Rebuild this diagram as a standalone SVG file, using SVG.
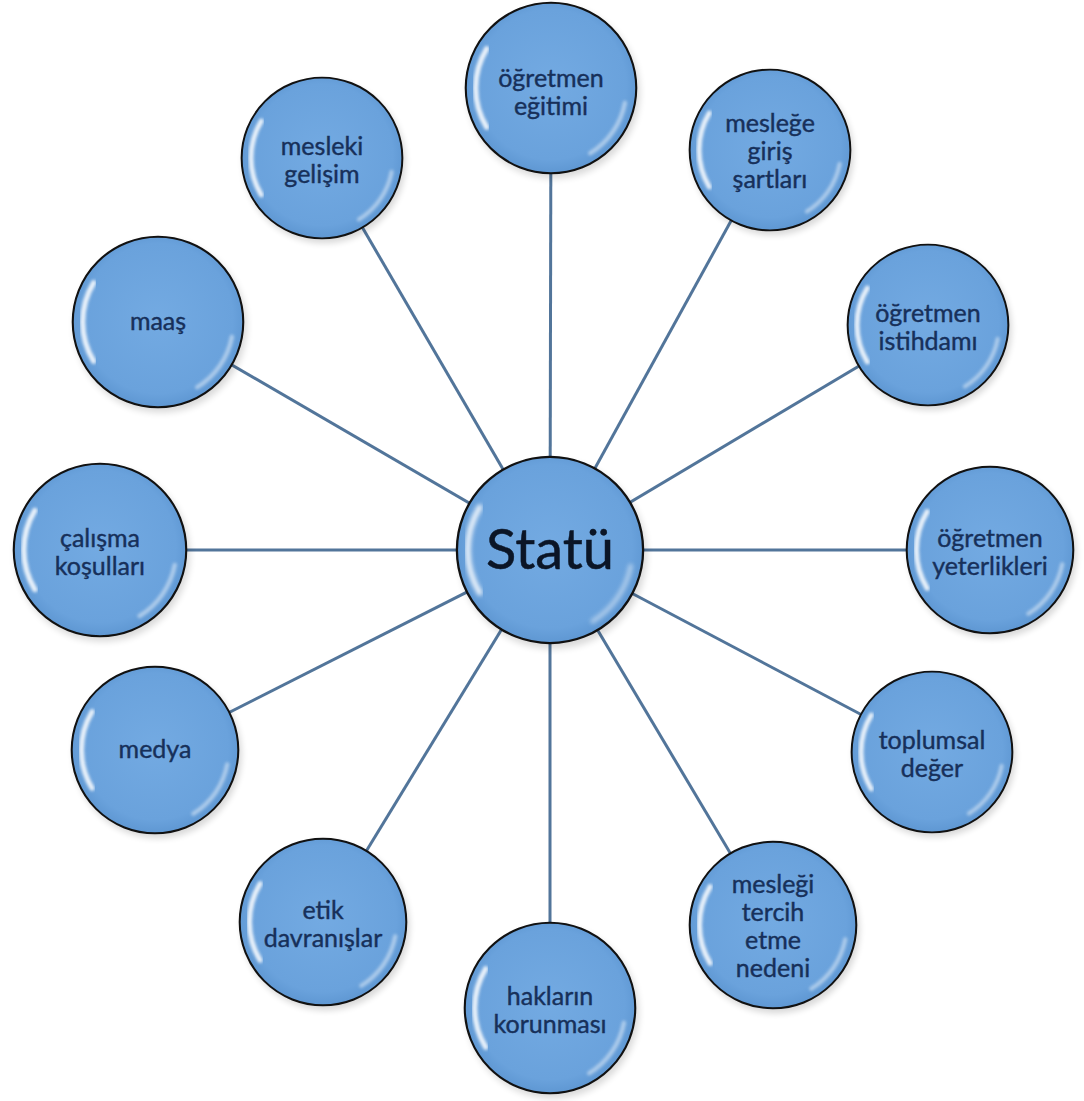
<svg xmlns="http://www.w3.org/2000/svg" xmlns:xlink="http://www.w3.org/1999/xlink" width="1084" height="1101" viewBox="0 0 1084 1101">
<style>
.lbl{font-family:Lato,"Open Sans","Liberation Sans",sans-serif;font-size:25px;fill:#17305a;stroke:#17305a;stroke-width:0.4;text-anchor:middle}
.big{font-family:Lato,"Open Sans","Liberation Sans",sans-serif;font-size:56px;fill:#0b1526;stroke:#0b1526;stroke-width:0.5;text-anchor:middle}
.con{stroke:#52759a;stroke-width:3;fill:none}
</style>
<defs>
<radialGradient id="g" cx="0.5" cy="0.48" r="0.55">
<stop offset="0" stop-color="#73aae2"/>
<stop offset="0.8" stop-color="#6aa2dc"/>
<stop offset="1" stop-color="#5a93cf"/>
</radialGradient>
<filter id="blur" x="-20%" y="-20%" width="140%" height="140%"><feGaussianBlur stdDeviation="2"/></filter>
<filter id="sh" x="-20%" y="-20%" width="140%" height="140%"><feGaussianBlur stdDeviation="4"/></filter>
<symbol id="bubble" viewBox="-100 -100 200 200" overflow="visible">
<circle cx="3" cy="5" r="99" fill="#000" opacity="0.15" filter="url(#sh)"/>
<circle r="98" fill="url(#g)" stroke="#111" stroke-width="2.4"/>
<path d="M -74 -45 A 87 87 0 0 0 -74 45" stroke="#fff" stroke-width="6" fill="none" opacity="0.85" filter="url(#blur)" stroke-linecap="round"/>
<path d="M 85 17 A 87 87 0 0 1 45 75" stroke="#fff" stroke-width="5" fill="none" opacity="0.45" filter="url(#blur)" stroke-linecap="round"/>
</symbol>
</defs>
<rect width="1084" height="1101" fill="#fff"/>
<g id="connectors">
<line class="con" x1="550" y1="550" x2="551" y2="88"/>
<line class="con" x1="550" y1="550" x2="770" y2="150"/>
<line class="con" x1="550" y1="550" x2="928" y2="325"/>
<line class="con" x1="550" y1="550" x2="990" y2="550"/>
<line class="con" x1="550" y1="550" x2="932" y2="752"/>
<line class="con" x1="550" y1="550" x2="773" y2="925"/>
<line class="con" x1="550" y1="550" x2="550" y2="1008"/>
<line class="con" x1="550" y1="550" x2="323" y2="922"/>
<line class="con" x1="550" y1="550" x2="155" y2="750"/>
<line class="con" x1="550" y1="550" x2="100" y2="550"/>
<line class="con" x1="550" y1="550" x2="158" y2="322"/>
<line class="con" x1="550" y1="550" x2="322" y2="158"/>
</g>
<g id="n-egitimi"><use xlink:href="#bubble" x="464" y="1" width="174" height="174"/><text class="lbl" x="551" y="87">öğretmen</text><text class="lbl" x="551" y="115">eğitimi</text></g>
<g id="n-giris"><use xlink:href="#bubble" x="688" y="68" width="164" height="164"/><text class="lbl" x="770" y="132">mesleğe</text><text class="lbl" x="770" y="160">giriş</text><text class="lbl" x="770" y="188">şartları</text></g>
<g id="n-istihdam"><use xlink:href="#bubble" x="846" y="243" width="164" height="164"/><text class="lbl" x="928" y="322">öğretmen</text><text class="lbl" x="928" y="350">istihdamı</text></g>
<g id="n-yeterlik"><use xlink:href="#bubble" x="905" y="465" width="170" height="170"/><text class="lbl" x="990" y="547">öğretmen</text><text class="lbl" x="990" y="575">yeterlikleri</text></g>
<g id="n-toplumsal"><use xlink:href="#bubble" x="850" y="670" width="164" height="164"/><text class="lbl" x="932" y="749">toplumsal</text><text class="lbl" x="932" y="777">değer</text></g>
<g id="n-tercih"><use xlink:href="#bubble" x="688" y="840" width="170" height="170"/><text class="lbl" x="773" y="893">mesleği</text><text class="lbl" x="773" y="921">tercih</text><text class="lbl" x="773" y="949">etme</text><text class="lbl" x="773" y="977">nedeni</text></g>
<g id="n-haklar"><use xlink:href="#bubble" x="463" y="921" width="174" height="174"/><text class="lbl" x="550" y="1005">hakların</text><text class="lbl" x="550" y="1033">korunması</text></g>
<g id="n-etik"><use xlink:href="#bubble" x="238" y="837" width="170" height="170"/><text class="lbl" x="323" y="919">etik</text><text class="lbl" x="323" y="947">davranışlar</text></g>
<g id="n-medya"><use xlink:href="#bubble" x="70" y="665" width="170" height="170"/><text class="lbl" x="155" y="758">medya</text></g>
<g id="n-calisma"><use xlink:href="#bubble" x="12" y="462" width="176" height="176"/><text class="lbl" x="100" y="547">çalışma</text><text class="lbl" x="100" y="575">koşulları</text></g>
<g id="n-maas"><use xlink:href="#bubble" x="71" y="235" width="174" height="174"/><text class="lbl" x="158" y="330">maaş</text></g>
<g id="n-gelisim"><use xlink:href="#bubble" x="240" y="76" width="164" height="164"/><text class="lbl" x="322" y="155">mesleki</text><text class="lbl" x="322" y="183">gelişim</text></g>
<g id="n-statu"><use xlink:href="#bubble" x="455" y="455" width="190" height="190"/><text class="big" x="550" y="569">Statü</text></g>
</svg>
